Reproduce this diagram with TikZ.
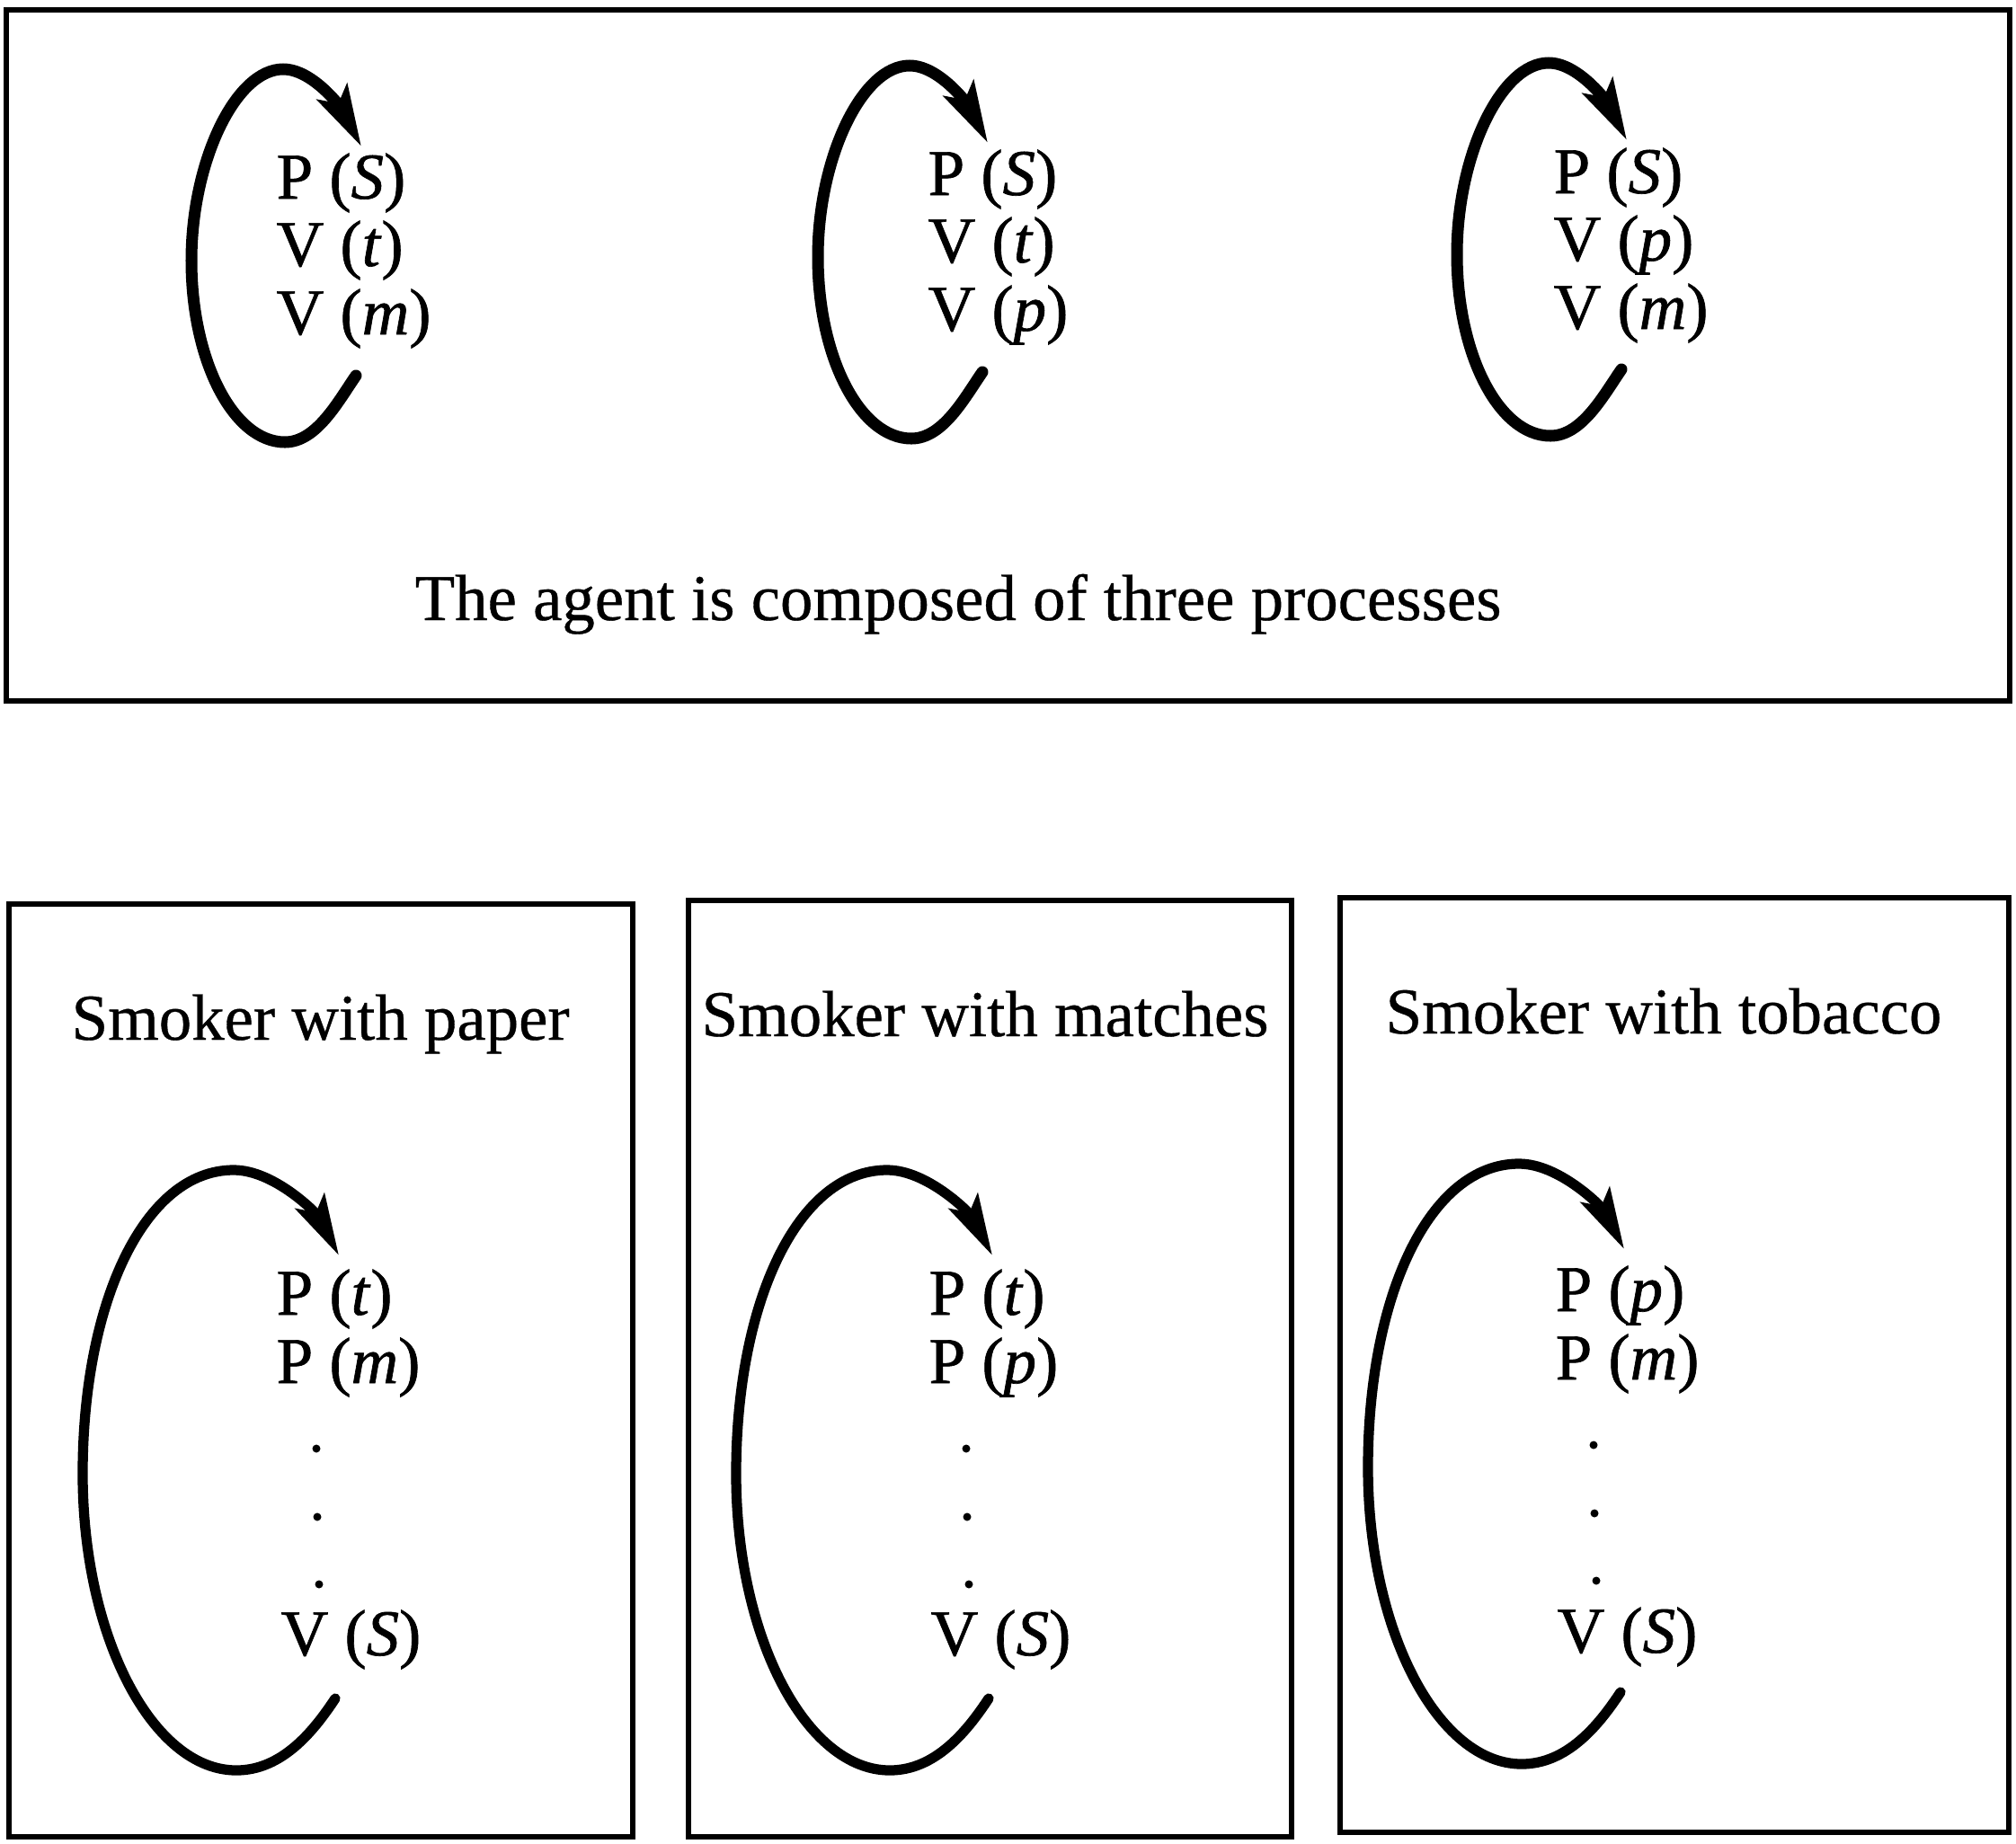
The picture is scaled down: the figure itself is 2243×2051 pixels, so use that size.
\documentclass[tikz,border=0pt]{standalone}
\usepackage{fontspec}
\setmainfont{Liberation Serif}
\newfontfamily\heavyrm{Liberation Serif}[FakeBold=0.9]
\newfontfamily\mediumrm{Liberation Serif}[FakeBold=0.5]
\usetikzlibrary{arrows.meta}
\begin{document}
\begin{tikzpicture}[x=0.01cm,y=-0.01cm,
  frame/.style={draw, line width=1.8pt},
  toploop/.style={line width=3.7pt, line cap=round, -{Stealth[length=6.8mm,width=3.7mm,inset=1.4mm]}},
  botloop/.style={line width=3.2pt, line cap=round, -{Stealth[length=6.8mm,width=3.6mm,inset=1.4mm]}},
  lbl/.style={anchor=base west, inner sep=0pt, font=\fontsize{20.7}{24}\selectfont\heavyrm},
  txt/.style={anchor=base west, inner sep=0pt, font=\fontsize{20.7}{24}\selectfont\mediumrm},
  dotmark/.style={fill, radius=4.5},
]
\useasboundingbox (0,0) rectangle (2243,2051);

% ---------- frames ----------
\draw[frame] (7,11) rectangle (2236,780);
\draw[frame] (10,1006) rectangle (704,2044);
\draw[frame] (766,1002) rectangle (1437,2044);
\draw[frame] (1491,999) rectangle (2235,2039);

% ---------- top box loops ----------
\coordinate (te1) at (396,418);
\coordinate (ta1) at (402,163);
\draw[toploop] (te1) .. controls (376,447) and (352,492) .. (317,492)
  .. controls (260,492) and (213,402) .. (213,290)
  .. controls (213,180) and (262,77) .. (315,77)
  .. controls (347,77) and (378,118) .. (ta1);

\begin{scope}[shift={(697,-4)}]
\coordinate (te2) at (396,418);
\coordinate (ta2) at (402,163);
\draw[toploop] (te2) .. controls (376,447) and (352,492) .. (317,492)
  .. controls (260,492) and (213,402) .. (213,290)
  .. controls (213,180) and (262,77) .. (315,77)
  .. controls (347,77) and (378,118) .. (ta2);
\end{scope}

\begin{scope}[shift={(1408,-7)}]
\coordinate (te3) at (396,418);
\coordinate (ta3) at (402,163);
\draw[toploop] (te3) .. controls (376,447) and (352,492) .. (317,492)
  .. controls (260,492) and (213,402) .. (213,290)
  .. controls (213,180) and (262,77) .. (315,77)
  .. controls (347,77) and (378,118) .. (ta3);
\end{scope}

% top labels
\node[lbl] (t1a) at (307,221) {P (\textit{S})};
\node[lbl] (t1b) at (307,296) {V (\textit{t})};
\node[lbl] (t1c) at (307,372) {V (\textit{m})};
\node[lbl] (t2a) at (1032,217) {P (\textit{S})};
\node[lbl] (t2b) at (1032,292) {V (\textit{t})};
\node[lbl] (t2c) at (1032,368) {V (\textit{p})};
\node[lbl] (t3a) at (1728,215) {P (\textit{S})};
\node[lbl] (t3b) at (1728,290) {V (\textit{p})};
\node[lbl] (t3c) at (1728,366) {V (\textit{m})};

\node[txt] (caption) at (461,690) {The agent is composed of three processes};

% ---------- bottom boxes ----------
\node[txt] (title1) at (79,1157) {Smoker with paper};
\node[txt] (title2) at (780,1153) {Smoker with matches};
\node[txt] (title3) at (1541,1150) {Smoker with tobacco};

\coordinate (be1) at (373,1890);
\coordinate (ba1) at (377,1397);
\draw[botloop] (be1) .. controls (348,1928) and (313,1970) .. (263,1970)
  .. controls (170,1970) and (92,1822) .. (92,1640)
  .. controls (92,1450) and (160,1302) .. (260,1302)
  .. controls (305,1302) and (352,1350) .. (ba1);

\begin{scope}[shift={(727,0)}]
\coordinate (be2) at (373,1890);
\coordinate (ba2) at (377,1397);
\draw[botloop] (be2) .. controls (348,1928) and (313,1970) .. (263,1970)
  .. controls (170,1970) and (92,1822) .. (92,1640)
  .. controls (92,1450) and (160,1302) .. (260,1302)
  .. controls (305,1302) and (352,1350) .. (ba2);
\end{scope}

\begin{scope}[shift={(1430,-7)}]
\coordinate (be3) at (373,1890);
\coordinate (ba3) at (377,1397);
\draw[botloop] (be3) .. controls (348,1928) and (313,1970) .. (263,1970)
  .. controls (170,1970) and (92,1822) .. (92,1640)
  .. controls (92,1450) and (160,1302) .. (260,1302)
  .. controls (305,1302) and (352,1350) .. (ba3);
\end{scope}

% bottom labels
\node[lbl] (b1a) at (307,1463) {P (\textit{t})};
\node[lbl] (b1b) at (307,1539) {P (\textit{m})};
\node[lbl] (b1c) at (312,1842) {V (\textit{S})};
\fill[dotmark] (352,1612) circle;
\fill[dotmark] (353,1688) circle;
\fill[dotmark] (355,1763) circle;

\node[lbl] (b2a) at (1033,1463) {P (\textit{t})};
\node[lbl] (b2b) at (1033,1539) {P (\textit{p})};
\node[lbl] (b2c) at (1035,1842) {V (\textit{S})};
\fill[dotmark] (1075,1612) circle;
\fill[dotmark] (1076,1688) circle;
\fill[dotmark] (1078,1763) circle;

\node[lbl] (b3a) at (1730,1459) {P (\textit{p})};
\node[lbl] (b3b) at (1730,1535) {P (\textit{m})};
\node[lbl] (b3c) at (1732,1839) {V (\textit{S})};
\fill[dotmark] (1773,1608) circle;
\fill[dotmark] (1774,1684) circle;
\fill[dotmark] (1776,1759) circle;
\end{tikzpicture}
\end{document}
